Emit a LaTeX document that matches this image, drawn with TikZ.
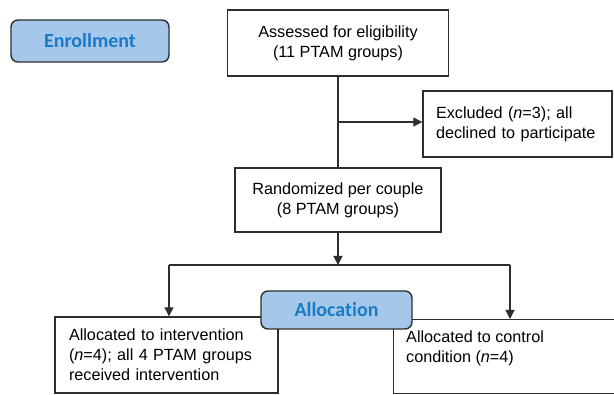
\documentclass[tikz,border=0pt]{standalone}
\usepackage{fontspec}
\setmainfont{Liberation Sans}
\newfontfamily\labelfont[Ligatures=NoCommon]{Carlito}
\usetikzlibrary{arrows.meta}
\definecolor{lineg}{HTML}{2E2E2E}
\definecolor{phasefill}{HTML}{A5C8EA}
\definecolor{phasetext}{HTML}{1A7AC8}
\tikzset{
  box/.style={draw=lineg, line width=1.4pt, rectangle, inner sep=0pt, fill=white,
    font=\fontsize{16.2}{20}\selectfont},
  phase/.style={draw=lineg, line width=1.4pt, rounded corners=7pt, fill=phasefill,
    text=phasetext, inner sep=0pt, font=\labelfont\bfseries\fontsize{20}{23}\selectfont},
  conn/.style={draw=lineg, line width=1.3pt},
  arr/.style={conn, -{Triangle[length=9pt,width=9pt]}},
}
\begin{document}
\begin{tikzpicture}[x=1pt,y=-1pt]
\useasboundingbox[fill=white] (0,0) rectangle (614,395);
% boxes
\node[box, minimum width=221pt, minimum height=66pt, align=center] (assess) at (338,43)
  {Assessed for eligibility\\(11 PTAM groups)};
\node[box, minimum width=189pt, minimum height=66pt, text width=163pt, align=left] (excl) at (517.5,124)
  {Excluded (\textit{n}=3); all\\declined to participate};
\node[box, minimum width=206pt, minimum height=64pt, align=center] (rand) at (338,200)
  {Randomized per couple\\(8 PTAM groups)};
\node[box, minimum width=223pt, minimum height=76pt, text width=195pt, align=left] (interv) at (166.5,355)
  {Allocated to intervention\\(\textit{n}=4); all 4 PTAM groups\\received intervention};
\node[box, minimum width=240pt, minimum height=74pt, anchor=north west] (ctrl) at (393,319) {};
\node[font=\fontsize{16.2}{20}\selectfont, align=left, anchor=north west, inner sep=0pt] (ctrltext) at (406,331)
  {Allocated to control\\condition (\textit{n}=4)};
\node[phase, minimum width=158pt, minimum height=42pt] (enrol) at (90,41) {Enrollment};
\node[phase, minimum width=151pt, minimum height=38pt] (alloc) at (336.5,310) {Allocation};
% connectors
\draw[conn] (assess.south) -- (rand.north);
\coordinate (jx) at (338,122);
\draw[arr] (jx) -- (jx -| excl.west);
\coordinate (split) at (338,265);
\draw[arr] (rand.south) -- (split);
\coordinate (sl) at (169,265);
\coordinate (sr) at (510,265);
\draw[conn] (sl) -- (sr);
\draw[arr] (sl) -- (sl |- interv.north);
\draw[arr] (sr) -- (sr |- ctrl.north);
\end{tikzpicture}
\end{document}
